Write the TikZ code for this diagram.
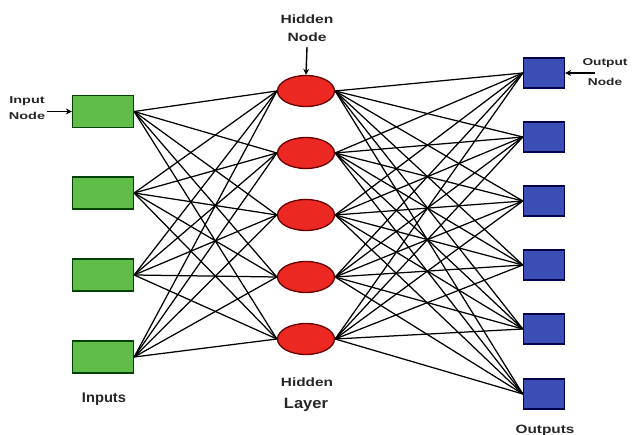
\documentclass[tikz,border=0pt]{standalone}
\usepackage{fontspec}
\setmainfont{Liberation Sans}
\usetikzlibrary{shapes.geometric,arrows.meta,backgrounds}
\definecolor{ingreen}{RGB}{96,190,72}
\definecolor{hidred}{RGB}{236,40,34}
\definecolor{outblue}{RGB}{58,78,182}
\tikzset{
  inbox/.style={draw=black!75!green, line width=1.3pt, fill=ingreen, minimum width=61pt, minimum height=32pt, inner sep=0pt},
  hidnode/.style={ellipse, draw=black!60!red, line width=1.3pt, fill=hidred, minimum width=57pt, minimum height=31pt, inner sep=0pt},
  outbox/.style={draw=black!70!blue, line width=1.3pt, fill=outblue, minimum width=41pt, minimum height=30pt, inner sep=0pt},
  link/.style={draw=black, line width=1.25pt},
  pointer/.style={draw=black, line width=1.4pt, -{Stealth[length=6pt,width=6pt]}},
  lbl/.style={text=black!85, inner sep=0pt, align=center},
}
\begin{document}
\begin{tikzpicture}[x=1pt,y=-1pt]
\useasboundingbox (0,0) rectangle (633,435);

% input layer
\node[inbox] (in1) at (103,111.5) {};
\node[inbox] (in2) at (103,193) {};
\node[inbox] (in3) at (103,275) {};
\node[inbox] (in4) at (103,357) {};

% hidden layer
\node[hidnode] (h1) at (306,91) {};
\node[hidnode] (h2) at (306,153) {};
\node[hidnode] (h3) at (306,215) {};
\node[hidnode] (h4) at (306,277) {};
\node[hidnode] (h5) at (306,339) {};

% output layer
\node[outbox] (o1) at (544,73) {};
\node[outbox] (o2) at (544,137) {};
\node[outbox] (o3) at (544,201) {};
\node[outbox] (o4) at (544,265) {};
\node[outbox] (o5) at (544,329) {};
\node[outbox] (o6) at (544,394) {};

% full connections, kept behind the nodes
\begin{scope}[on background layer]
\foreach \i in {1,...,4}
  \foreach \j in {1,...,5}
    \draw[link] (in\i.east) -- (h\j.west);
\foreach \j in {1,...,5}
  \foreach \k in {1,...,6}
    \draw[link] (h\j.east) -- (o\k.west);
\end{scope}

% labels and pointers
\node[lbl, font=\bfseries\fontsize{10}{16}\selectfont, xscale=1.45] (tin) at (27,108) {Input\\Node};
\coordinate (tinend) at (47,111.5);
\draw[pointer] (tinend) -- (in1.west);

\node[lbl, font=\bfseries\fontsize{12}{18}\selectfont, xscale=1.3] (thid) at (307,28) {Hidden\\Node};
\coordinate (thidend) at (307,47);
\draw[pointer] (thidend) -- (h1.north);

\node[lbl, font=\bfseries\fontsize{10}{20}\selectfont, xscale=1.37] (tout) at (605,72) {Output\\Node};
\coordinate (toutend) at (595,73);
\draw[pointer] (toutend) -- (o1.east);

\node[lbl, font=\bfseries\fontsize{14}{16}\selectfont, xscale=1.05] (tinputs) at (104,399) {Inputs};
\node[lbl, font=\bfseries\fontsize{12}{14}\selectfont, xscale=1.28] (thl1) at (307,382) {Hidden};
\node[lbl, font=\bfseries\fontsize{15}{17}\selectfont, xscale=1.1] (thl2) at (306,405) {Layer};
\node[lbl, font=\bfseries\fontsize{12}{14}\selectfont, xscale=1.28] (touts) at (545,431) {Outputs};
\end{tikzpicture}
\end{document}
